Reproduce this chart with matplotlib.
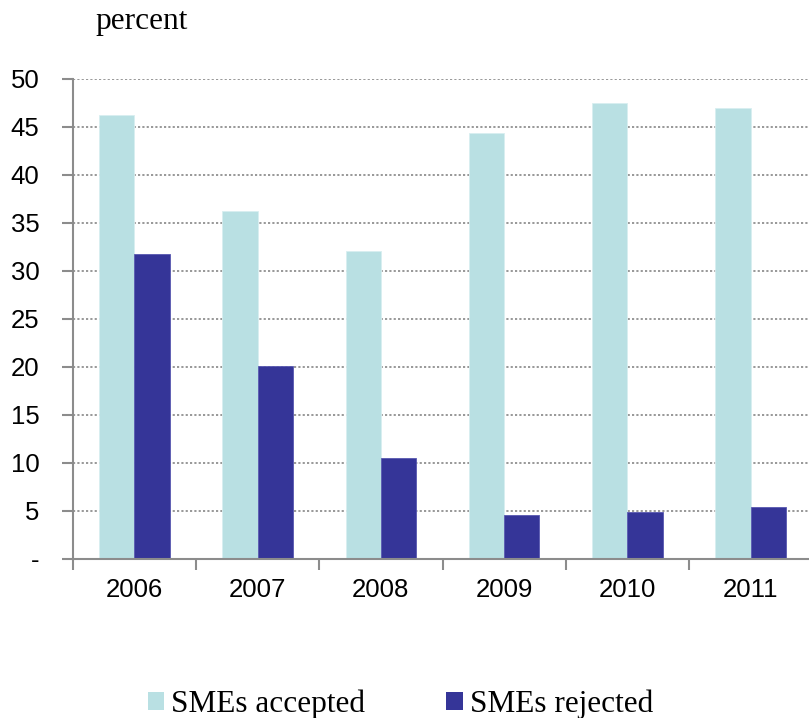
import numpy as np
import matplotlib
matplotlib.use('Agg')
import matplotlib.pyplot as plt
from matplotlib.patches import Patch

years = ['2006', '2007', '2008', '2009', '2010', '2011']
accepted = [46.3, 36.3, 32.1, 44.4, 47.5, 47.0]
rejected = [31.8, 20.1, 10.5, 4.6, 4.9, 5.4]
ytick_labels = ['-', '5', '10', '15', '20', '25', '30', '35', '40', '45', '50']

col_acc = '#b9e0e3'
col_rej = '#353598'
axis_grey = '#8c8c8c'

W, H = 809, 718
fig = plt.figure(figsize=(W / 100, H / 100), dpi=100)
ax = fig.add_axes([72.75 / W, (H - 559) / H, 6 * 123.25 / W, (559 - 79) / H])

x = np.arange(len(years))
bw = 0.2857
ax.bar(x - bw / 2, accepted, bw, color=col_acc, edgecolor='#d8eef0', linewidth=0.6, zorder=2)
ax.bar(x + bw / 2, rejected, bw, color=col_rej, edgecolor='#5858b0', linewidth=0.6, zorder=2)

ax.set_xlim(-0.5, len(years) - 0.5)
ax.set_ylim(0, 50)

# dotted grid
ax.set_yticks(np.arange(0, 51, 5))
ax.set_yticklabels(ytick_labels)
ax.yaxis.grid(True, linestyle=(0, (1.2, 1.2)), color='#909090', linewidth=1.3, zorder=0)
ax.set_axisbelow(True)

# group separators as major ticks, year labels on minor ticks
ax.set_xticks(np.arange(-0.5, len(years), 1))
ax.set_xticklabels([])
ax.set_xticks(x, minor=True)
ax.set_xticklabels(years, minor=True)
ax.tick_params(axis='x', which='major', direction='out', length=8, width=1.5, color=axis_grey)
ax.tick_params(axis='x', which='minor', length=0, pad=14, labelsize=18.5)
ax.tick_params(axis='y', direction='out', length=8, width=1.5, color=axis_grey, pad=16, labelsize=18.5)

for lab in ax.get_xticklabels(minor=True) + ax.get_yticklabels():
    lab.set_fontfamily('Liberation Sans')

for s in ['top', 'right']:
    ax.spines[s].set_visible(False)
for s in ['left', 'bottom']:
    ax.spines[s].set_color(axis_grey)
    ax.spines[s].set_linewidth(1.5)
ax.spines['bottom'].set_zorder(3)

fig.text(95 / W, 1 - 21 / H, 'percent', family='Liberation Serif', fontsize=22.5, va='center', ha='left')

handles = [Patch(facecolor=col_acc, label='SMEs accepted'),
           Patch(facecolor=col_rej, label='SMEs rejected')]
fig.legend(handles=handles, loc='center left', bbox_to_anchor=(148 / W, 1 - 704 / H), ncol=2,
           frameon=False, prop={'family': 'Liberation Serif', 'size': 22.5},
           handlelength=0.52, handleheight=0.52, handletextpad=0.22, columnspacing=2.6,
           borderpad=0, borderaxespad=0)

fig.savefig('out.png', dpi=100)
